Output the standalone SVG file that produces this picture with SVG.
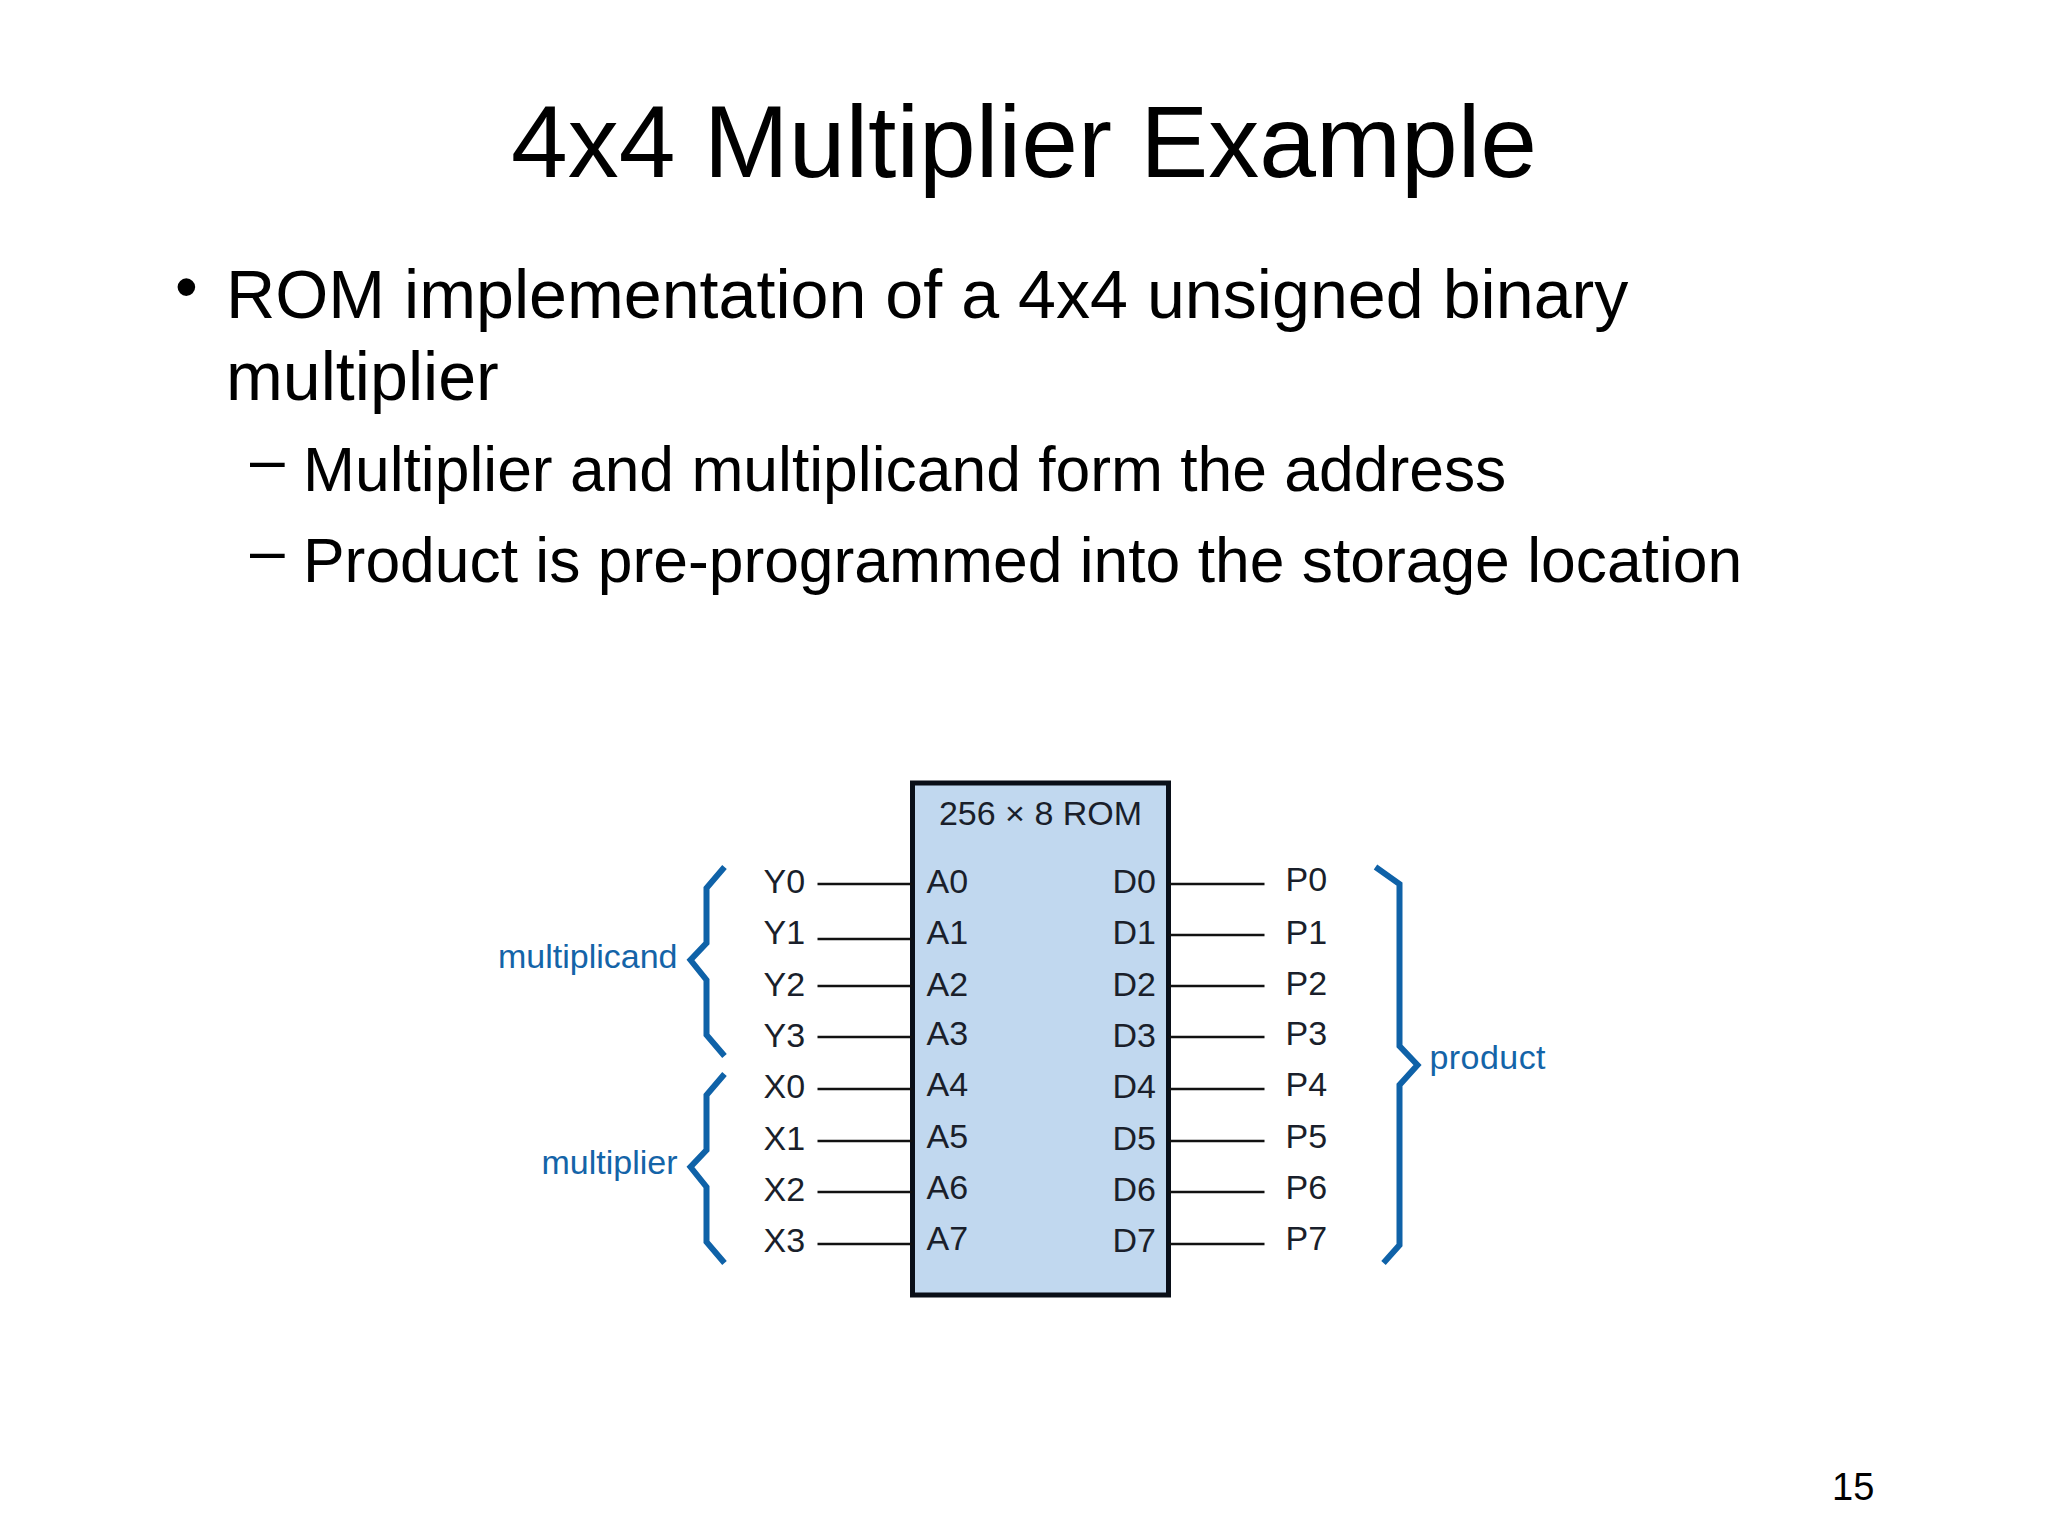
<svg xmlns="http://www.w3.org/2000/svg" width="2048" height="1536" viewBox="0 0 2048 1536">
<style>
text{font-family:"Liberation Sans",Arial,sans-serif;fill:#000}
.pin{font-size:34px;fill:#1a1f2b}
.blue{font-size:34px;fill:#1464a8}
.wire{stroke:#111;stroke-width:2.5;fill:none}
.brace{stroke:#0f62a8;stroke-width:6;fill:none}
.b1{font-size:68.2px}.b2{font-size:62.4px}
</style>
<rect width="2048" height="1536" fill="#fff"/>
<text x="1024" y="177" font-size="102" text-anchor="middle">4x4 Multiplier Example</text>
<text x="175" y="309" font-size="65">•</text>
<text class="b1" x="226" y="318">ROM implementation of a 4x4 unsigned binary</text>
<text class="b1" x="226" y="400">multiplier</text>
<text class="b2" x="250" y="481">–</text>
<text class="b2" x="303" y="491">Multiplier and multiplicand form the address</text>
<text class="b2" x="250" y="572">–</text>
<text class="b2" x="303" y="582">Product is pre-programmed into the storage location</text>
<text x="1832" y="1500" font-size="38">15</text>
<g transform="translate(-4.5,-5)">
<g id="rom"><rect x="917" y="788" width="256" height="512" fill="#c1d8ef" stroke="#0a0f18" stroke-width="5"/>
<text x="1045" y="830" font-size="34" text-anchor="middle" class="pin">256 × 8 ROM</text></g>
<g id="connectors">
<path class="wire" d="M822 889H917M822 944H917M822 991H917M822 1042H917M822 1094H917M822 1146H917M822 1197H917M822 1249H917"/>
<path class="wire" d="M1173 889H1269M1173 940H1269M1173 991H1269M1173 1042H1269M1173 1094H1269M1173 1146H1269M1173 1197H1269M1173 1249H1269"/>
</g>
<g id="pins-left">
<text class="pin" x="768" y="898">Y0</text><text class="pin" x="768" y="949">Y1</text><text class="pin" x="768" y="1001">Y2</text><text class="pin" x="768" y="1052">Y3</text>
<text class="pin" x="768" y="1103">X0</text><text class="pin" x="768" y="1155">X1</text><text class="pin" x="768" y="1206">X2</text><text class="pin" x="768" y="1257">X3</text>
</g>
<g id="pins-a">
<text class="pin" x="931" y="898">A0</text><text class="pin" x="931" y="949">A1</text><text class="pin" x="931" y="1001">A2</text><text class="pin" x="931" y="1050">A3</text>
<text class="pin" x="931" y="1101">A4</text><text class="pin" x="931" y="1153">A5</text><text class="pin" x="931" y="1204">A6</text><text class="pin" x="931" y="1255">A7</text>
</g>
<g id="pins-d">
<text class="pin" x="1117" y="898">D0</text><text class="pin" x="1117" y="949">D1</text><text class="pin" x="1117" y="1001">D2</text><text class="pin" x="1117" y="1052">D3</text>
<text class="pin" x="1117" y="1103">D4</text><text class="pin" x="1117" y="1155">D5</text><text class="pin" x="1117" y="1206">D6</text><text class="pin" x="1117" y="1257">D7</text>
</g>
<g id="pins-p">
<text class="pin" x="1290" y="896">P0</text><text class="pin" x="1290" y="949">P1</text><text class="pin" x="1290" y="1000">P2</text><text class="pin" x="1290" y="1050">P3</text>
<text class="pin" x="1290" y="1101">P4</text><text class="pin" x="1290" y="1153">P5</text><text class="pin" x="1290" y="1204">P6</text><text class="pin" x="1290" y="1255">P7</text>
</g>
<g id="brace-multiplicand"><path class="brace" d="M729 872L711 893V948L695 965L711 985V1040L729 1061"/><text class="blue" x="682" y="973" text-anchor="end">multiplicand</text></g>
<g id="brace-multiplier"><path class="brace" d="M729 1079L711 1100V1155L695 1172L711 1192V1247L729 1268"/><text class="blue" x="682" y="1179" text-anchor="end">multiplier</text></g>
<g id="brace-product"><path class="brace" d="M1380 872L1404 889V1051L1422 1070L1404 1090V1250L1388 1268"/><text class="blue" x="1434" y="1074" textLength="116">product</text></g>
</g>
</svg>
